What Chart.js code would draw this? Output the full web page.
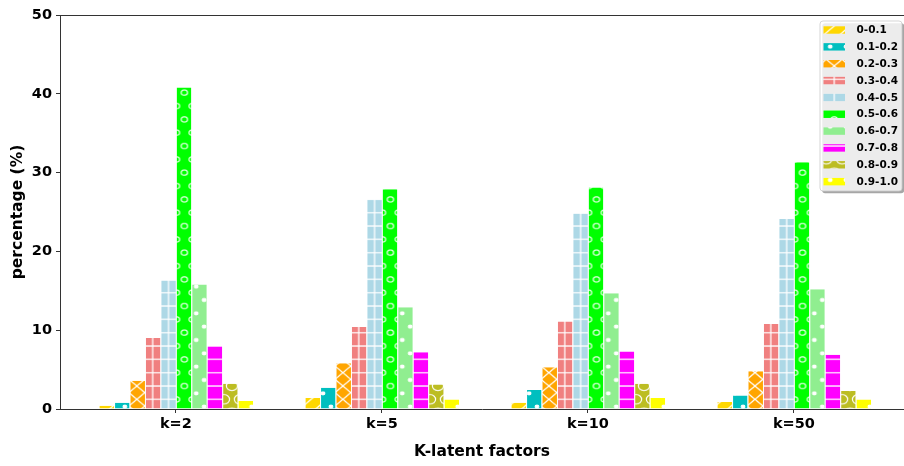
<!DOCTYPE html>
<html><head><meta charset="utf-8">
<script src="https://cdn.jsdelivr.net/npm/chart.js@4"></script>
<style>html,body{margin:0;padding:0;background:#fff;overflow:hidden}canvas{display:block}</style>
</head><body>
<canvas id="c" width="904" height="466"></canvas>
<script>
// ---- data ----
const categories = ['k=2', 'k=5', 'k=10', 'k=50'];
const bins = ['0-0.1', '0.1-0.2', '0.2-0.3', '0.3-0.4', '0.4-0.5', '0.5-0.6', '0.6-0.7', '0.7-0.8', '0.8-0.9', '0.9-1.0'];
const k2  = [0.4, 0.8, 3.6, 9.0, 16.3, 40.8, 15.8, 8.0, 3.2, 1.0];
const k5  = [1.4, 2.7, 5.8, 10.4, 26.6, 27.9, 12.9, 7.2, 3.1, 1.2];
const k10 = [0.8, 2.4, 5.3, 11.1, 24.8, 28.1, 14.7, 7.3, 3.2, 1.4];
const k50 = [0.9, 1.7, 4.8, 10.8, 24.1, 31.3, 15.2, 6.9, 2.3, 1.2];
const yTicks = [0, 10, 20, 30, 40, 50];
const xTitle = 'K-latent factors';
const yTitle = 'percentage (%)';

// ---- style ----
const colors = ['#FFD700', '#00BFBF', '#FFA500', '#F08080', '#ADD8E6', '#00FF00', '#90EE90', '#FF00FF', '#BCBD22', '#FFFF00'];
const hatches = ['/', '.', 'x', '+', '+', 'o', '.', '-', 'O', '.'];
const FONT = "'DejaVu Sans', 'Liberation Sans', sans-serif";

function makePattern(color, hatch) {
  const c = 16, N = 6, T = c * N;
  const cv = document.createElement('canvas');
  cv.width = T; cv.height = T;
  const g = cv.getContext('2d');
  g.fillStyle = color; g.fillRect(0, 0, T, T);
  g.strokeStyle = '#ffffff'; g.fillStyle = '#ffffff';
  g.lineWidth = 1.3;
  const line = (x1, y1, x2, y2) => { g.beginPath(); g.moveTo(x1, y1); g.lineTo(x2, y2); g.stroke(); };
  if (hatch === '-' || hatch === '+') for (let i = 0; i <= N; i++) line(0, i * c, T, i * c);
  if (hatch === '|' || hatch === '+') for (let i = 0; i <= N; i++) line(i * c, 0, i * c, T);
  if (hatch === '/' || hatch === 'x') for (let k = 0; k <= 2 * N; k++) line(k * c, 0, k * c - T, T);
  if (hatch === 'x') for (let k = -N; k <= N; k++) line(k * c, 0, k * c + T, T);
  if (hatch === 'o' || hatch === 'O' || hatch === '.') {
    const size = hatch === 'o' ? 0.2 : hatch === 'O' ? 0.35 : 0.12;
    const r = size * c;
    for (let row = 0; row <= N; row++) {
      const y = row * c;
      const xs = [];
      if (row % 2 === 0) for (let j = 0; j <= N; j++) xs.push(j * c);
      else for (let j = 0; j < N; j++) xs.push((j + 0.5) * c);
      xs.forEach(x => {
        g.beginPath(); g.arc(x, y, r, 0, Math.PI * 2);
        if (hatch === '.') { g.fill(); g.lineWidth = 1.1; g.stroke(); }
        else { g.lineWidth = 1.2; g.stroke(); }
      });
    }
  }
  const ctx = document.getElementById('c').getContext('2d');
  const p = ctx.createPattern(cv, 'repeat');
  const PX = 15.85, PY = 13.333;
  const ox = hatch === '.' ? 13.9 : 10;
  const oy = hatch === '.' ? 6.67 : 12.67;
  p.setTransform(new DOMMatrix([PX / c, 0, 0, PY / c, ox, oy]));
  return p;
}
const patterns = colors.map((col, i) => makePattern(col, hatches[i]));

const table = [k2, k5, k10, k50];
const datasets = bins.map((b, i) => ({
  label: b,
  data: categories.map((cat, j) => ({ x: j, y: table[j][i] })),
  backgroundColor: patterns[i],
  borderColor: '#ffffff',
  borderWidth: { left: 1, right: 0, top: 0, bottom: 0 },
  borderSkipped: false
}));

const spinePlugin = {
  id: 'spines',
  afterDraw(chart) {
    const { ctx, chartArea } = chart;
    ctx.save();
    ctx.strokeStyle = '#333'; ctx.lineWidth = 1;
    ctx.beginPath();
    ctx.moveTo(chartArea.left, chartArea.top + 0.5);
    ctx.lineTo(chartArea.right, chartArea.top + 0.5);
    ctx.stroke();
    ctx.restore();
  }
};

const legendPlugin = {
  id: 'legendBox',
  afterDraw(chart) {
    const ctx = chart.ctx;
    const x0 = 820, y0 = 21, w = 82, h = 170, rad = 3;
    const rr = (x, y, ww, hh) => { ctx.beginPath(); ctx.roundRect(x, y, ww, hh, rad); };
    ctx.save();
    rr(x0 + 2.2, y0 + 2.2, w, h); ctx.fillStyle = 'rgba(77,77,77,0.5)'; ctx.fill();
    rr(x0, y0, w, h); ctx.fillStyle = 'rgba(255,255,255,0.8)'; ctx.fill();
    ctx.strokeStyle = 'rgba(204,204,204,0.8)'; ctx.lineWidth = 1; ctx.stroke();
    chart.data.datasets.forEach((ds, i) => {
      const cy = 30 + i * 16.85;
      ctx.fillStyle = ds.backgroundColor;
      ctx.fillRect(823.5, cy - 3.7, 21.5, 7.4);
      ctx.fillStyle = '#000';
      ctx.font = 'bold 10.5px ' + FONT;
      ctx.textBaseline = 'middle'; ctx.textAlign = 'left';
      ctx.fillText(ds.label, 856.5, cy + 0.5);
    });
    ctx.restore();
  }
};

const tickFont = { family: FONT, size: 14.5, weight: 'bold' };
const titleFont = { family: FONT, size: 15.5, weight: 'bold', lineHeight: 1.2 };

new Chart(document.getElementById('c'), {
  type: 'bar',
  data: { datasets },
  plugins: [spinePlugin, legendPlugin],
  options: {
    responsive: false,
    animation: false,
    layout: { padding: { top: 15, right: 0, left: 0, bottom: 0 } },
    plugins: { legend: { display: false }, tooltip: { enabled: false } },
    datasets: { bar: { categoryPercentage: 0.75, barPercentage: 1.0 } },
    scales: {
      x: {
        type: 'linear', min: -0.5625, max: 3.5346, offset: false,
        afterBuildTicks: s => { s.ticks = categories.map((c, i) => ({ value: i })); },
        ticks: { callback: v => categories[v], font: tickFont, color: '#000', padding: 3, maxRotation: 0, autoSkip: false },
        grid: { display: true, drawOnChartArea: false, drawTicks: true, tickLength: 4, tickColor: '#333', offset: false },
        border: { display: true, color: '#333', width: 1 },
        title: { display: true, text: xTitle, font: titleFont, color: '#000', padding: { top: 0, bottom: 5 } },
        afterFit: s => { s.height = 57; }
      },
      y: {
        min: 0, max: 50,
        afterBuildTicks: s => { s.ticks = yTicks.map(v => ({ value: v })); },
        ticks: { font: tickFont, color: '#000', padding: 4 },
        grid: { display: true, drawOnChartArea: false, drawTicks: true, tickLength: 4, tickColor: '#333' },
        border: { display: true, color: '#333', width: 1 },
        title: { display: true, text: yTitle, font: titleFont, color: '#000', padding: { top: 9, bottom: 0 } },
        afterFit: s => { s.width = 60; }
      }
    }
  }
});
</script>
</body></html>
